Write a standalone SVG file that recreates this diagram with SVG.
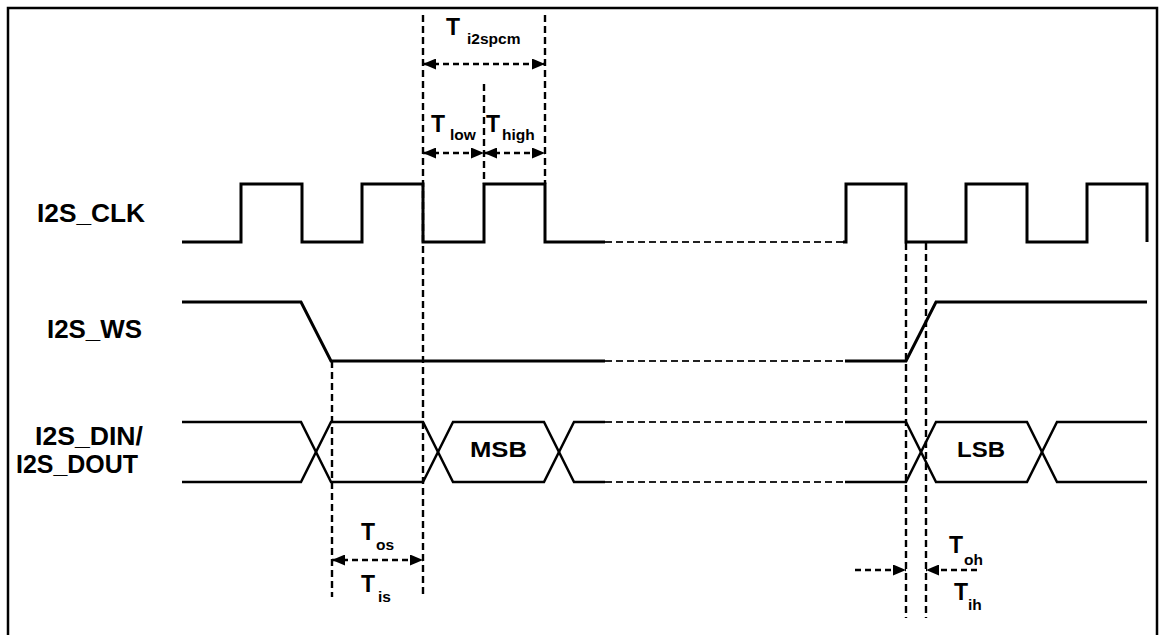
<svg xmlns="http://www.w3.org/2000/svg" width="1160" height="635" viewBox="0 0 1160 635">
<style>
.sig{fill:none;stroke:#000;stroke-width:3;stroke-linejoin:miter}
.dat{fill:none;stroke:#000;stroke-width:2.5}
.gap{fill:none;stroke:#222;stroke-width:2.2;stroke-dasharray:7 4}
.vd{fill:none;stroke:#000;stroke-width:2.4;stroke-dasharray:7 4}
.arr{fill:none;stroke:#000;stroke-width:2.6;stroke-dasharray:6 4}
.lbl{font-family:"Liberation Sans",Arial,sans-serif;font-weight:bold;fill:#000}
.t{font-family:"Liberation Sans",Arial,sans-serif;font-weight:bold;font-size:23px;fill:#000}
.s{font-size:15.5px}
</style>
<defs>
<marker id="ah" viewBox="0 0 13 11" refX="13" refY="5.5" markerWidth="13" markerHeight="11" markerUnits="userSpaceOnUse" orient="auto-start-reverse">
<path d="M0,0 L13,5.5 L0,11 z" fill="#000"/>
</marker>
</defs>
<rect width="1160" height="635" fill="#fff"/>
<path d="M8,645 V8 H1157 V645" fill="none" stroke="#000" stroke-width="2.5"/>

<g id="labels">
<text class="lbl" x="37" y="222" font-size="25" textLength="108" lengthAdjust="spacingAndGlyphs">I2S_CLK</text>
<text class="lbl" x="47" y="338" font-size="25" textLength="95" lengthAdjust="spacingAndGlyphs">I2S_WS</text>
<text class="lbl" x="35" y="445" font-size="25" textLength="108" lengthAdjust="spacingAndGlyphs">I2S_DIN/</text>
<text class="lbl" x="16" y="473" font-size="25" textLength="122" lengthAdjust="spacingAndGlyphs">I2S_DOUT</text>
</g>

<g id="clk">
<path class="sig" d="M182,242 H241 V184 H302 V242 H362 V184 H423 V242 H484 V184 H545 V242 H605"/>
<path class="gap" d="M605,242 H845"/>
<path class="sig" d="M843,242 H846 V184 H906 V242 H966 V184 H1027 V242 H1087 V184 H1147 V242"/>
</g>

<g id="ws">
<path class="sig" d="M182,302 H301 L331,361 H605"/>
<path class="gap" d="M605,361 H845"/>
<path class="sig" d="M845,361 H906 L936,302 H1147"/>
</g>

<g id="data">
<path class="dat" d="M182,422 H301 L331,482 H423 L453,422 H544 L574,482 H605"/>
<path class="dat" d="M182,482 H301 L331,422 H423 L453,482 H544 L574,422 H605"/>
<path class="gap" d="M605,422 H845 M605,482 H845"/>
<path class="dat" d="M845,422 H906 L936,482 H1027 L1057,422 H1147"/>
<path class="dat" d="M845,482 H906 L936,422 H1027 L1057,482 H1147"/>
<text class="lbl" x="470" y="457" font-size="22" textLength="57" lengthAdjust="spacingAndGlyphs">MSB</text>
<text class="lbl" x="957" y="457" font-size="22" textLength="48" lengthAdjust="spacingAndGlyphs">LSB</text>
</g>

<g id="connectors">
<path class="vd" d="M423,15 V597"/>
<path class="vd" d="M545,15 V184"/>
<path class="vd" d="M484,84 V184"/>
<path class="vd" d="M332,361 V597"/>
<path class="vd" d="M906,243 V618"/>
<path class="vd" d="M926,243 V618"/>
<path class="arr" d="M423,64 H545" marker-start="url(#ah)" marker-end="url(#ah)"/>
<path class="arr" d="M423,153 H484" marker-start="url(#ah)" marker-end="url(#ah)"/>
<path class="arr" d="M484,153 H545" marker-start="url(#ah)" marker-end="url(#ah)"/>
<path class="arr" d="M332,560 H423" marker-start="url(#ah)" marker-end="url(#ah)"/>
<path class="arr" d="M855,570 H906" marker-end="url(#ah)"/>
<path class="arr" d="M977,570 H926" marker-end="url(#ah)"/>
</g>

<g id="timing-labels">
<text class="t" x="446" y="35">T<tspan class="s" x="467" y="44">i2spcm</tspan></text>
<text class="t" x="431" y="132">T<tspan class="s" x="450" y="140">low</tspan></text>
<text class="t" x="486" y="132">T<tspan class="s" x="502" y="140">high</tspan></text>
<text class="t" x="361" y="540">T<tspan class="s" x="376" y="550">os</tspan></text>
<text class="t" x="361" y="592">T<tspan class="s" x="378" y="602">is</tspan></text>
<text class="t" x="949" y="553">T<tspan class="s" x="964" y="565">oh</tspan></text>
<text class="t" x="954" y="600">T<tspan class="s" x="968" y="610">ih</tspan></text>
</g>
</svg>
